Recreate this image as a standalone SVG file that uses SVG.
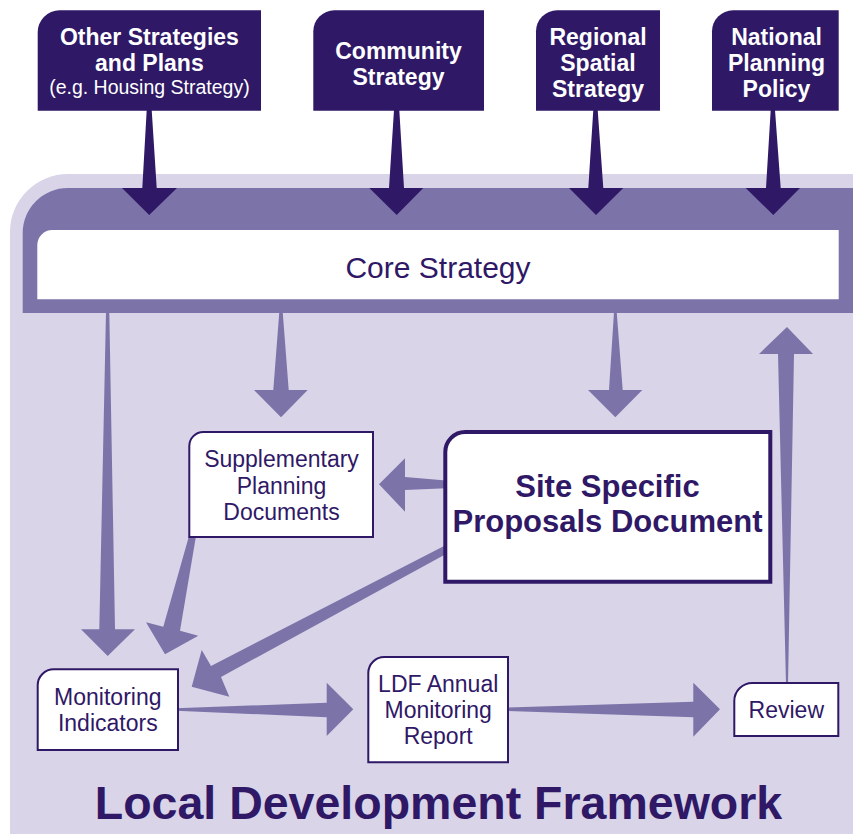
<svg xmlns="http://www.w3.org/2000/svg" width="853" height="834" viewBox="0 0 853 834">
<style>
.dark{fill:#2f1866}
.mid{fill:#7c73a9}
.light{fill:#d9d4e8}
.node{fill:#ffffff;stroke:#2f1866;stroke-width:2}
.nodeBig{fill:#ffffff;stroke:#2f1866;stroke-width:4}
.top{font-family:"Liberation Sans",Arial,sans-serif;font-weight:bold;font-size:23px;fill:#ffffff;text-anchor:middle}
.topSmall{font-family:"Liberation Sans",Arial,sans-serif;font-size:19.5px;fill:#ffffff;text-anchor:middle}
.lbl{font-family:"Liberation Sans",Arial,sans-serif;font-size:23px;fill:#2f1866;text-anchor:middle}
.lblBold{font-family:"Liberation Sans",Arial,sans-serif;font-weight:bold;font-size:31px;fill:#2f1866;text-anchor:middle}
.title{font-family:"Liberation Sans",Arial,sans-serif;font-weight:bold;font-size:46.5px;fill:#2f1866;text-anchor:middle}
</style>

<g id="background">
<path class="light" d="M10,834 V232 A58,58 0 0 1 68,174 H853 V834 Z"/>
<path class="mid" d="M22.7,313 V233 A45,45 0 0 1 67.7,188 H853 V313 Z"/>
</g>

<g id="core-strategy">
<path fill="#ffffff" d="M37.3,245 A15,15 0 0 1 52.3,230 H838.7 V299.3 H37.3 Z"/>
<text class="lbl" x="438" y="278.3" style="font-size:30px">Core Strategy</text>
</g>

<g id="connectors">
<polygon class="dark" points="146.7,110 151.7,110 156.7,188 177,188 149.2,215 122,188 142.3,188"/>
<polygon class="dark" points="394,110 399.3,110 404,188 423.3,188 396.7,215 369.3,188 389,188"/>
<polygon class="dark" points="593.3,110 597.7,110 603.3,188 623.3,188 596,215 569,188 588.3,188"/>
<polygon class="dark" points="770.7,110 775,110 780.7,188 800,188 773.3,215 745.7,188 766,188"/>
<polygon class="mid" points="279.3,312 282.7,312 288.7,390 307.7,390 281,417.3 254,390 273.3,390"/>
<polygon class="mid" points="614,312 616.7,312 622.7,390 642.3,390 615.3,417.3 588,390 609,390"/>
<polygon class="mid" points="106,312 109.3,312 115,629.3 135,629.3 107.7,656 81,629.3 99.3,629.3"/>
<polygon class="mid" points="786,684 788,684 794,354 813,354 787,327 759,354 778,354"/>
<polygon class="mid" points="189,536 196,536 180,630.7 198.3,635.7 165,654.3 146,622.3 163.3,626.7"/>
<polygon class="mid" points="446,480.5 446,488.3 405,490 405,511.7 379,484.3 405,458.3 405,477"/>
<polygon class="mid" points="446,545 446,554 221,677 229.3,696.7 191.7,686.7 201.7,650 211,666"/>
<polygon class="mid" points="176,708.3 326.7,702.7 326.7,682.7 353.3,709.3 326.7,736 326.7,717.3 176,710.7"/>
<polygon class="mid" points="507,707.5 693.3,701.7 693.3,682.7 720,709.3 693.3,736.7 693.3,717.3 507,711"/>
</g>

<g id="other-strategies">
<path class="dark" d="M37.7,33 A22,22 0 0 1 59.7,10.3 H261 V110.7 H37.7 Z"/>
<text class="top" x="149.4" y="44.5">Other Strategies</text>
<text class="top" x="149.4" y="70.7">and Plans</text>
<text class="topSmall" x="149.4" y="94.3">(e.g. Housing Strategy)</text>
</g>

<g id="community-strategy">
<path class="dark" d="M313.3,31.3 A21,21 0 0 1 334.3,10.3 H484 V110.7 H313.3 Z"/>
<text class="top" x="398.5" y="58.7">Community</text>
<text class="top" x="398.5" y="84.5">Strategy</text>
</g>

<g id="regional-spatial-strategy">
<path class="dark" d="M536,31.3 A21,21 0 0 1 557,10.3 H660 V110.7 H536 Z"/>
<text class="top" x="598" y="44.5">Regional</text>
<text class="top" x="598" y="70.5">Spatial</text>
<text class="top" x="598" y="96.5">Strategy</text>
</g>

<g id="national-planning-policy">
<path class="dark" d="M712,31.3 A21,21 0 0 1 733,10.3 H838.7 V110.7 H712 Z"/>
<text class="top" x="776.5" y="44.5">National</text>
<text class="top" x="776.5" y="70.5">Planning</text>
<text class="top" x="776.5" y="96.5">Policy</text>
</g>

<g id="supplementary-planning-documents">
<path class="node" d="M189.3,446 A14,14 0 0 1 203.3,432 H373 V537 H189.3 Z"/>
<text class="lbl" x="281.5" y="467">Supplementary</text>
<text class="lbl" x="281.5" y="493.5">Planning</text>
<text class="lbl" x="281.5" y="519.5">Documents</text>
</g>

<g id="site-specific-proposals">
<path class="nodeBig" d="M445.3,452 A20,20 0 0 1 465.3,432 H770.3 V581.7 H445.3 Z"/>
<text class="lblBold" x="607.5" y="497.3">Site Specific</text>
<text class="lblBold" x="607.5" y="532.3">Proposals Document</text>
</g>

<g id="monitoring-indicators">
<path class="node" d="M37.7,685.3 A16,16 0 0 1 53.7,669.3 H178 V750 H37.7 Z"/>
<text class="lbl" x="107.8" y="705">Monitoring</text>
<text class="lbl" x="107.8" y="730.7">Indicators</text>
</g>

<g id="ldf-annual-monitoring-report">
<path class="node" d="M368.3,673 A16,16 0 0 1 384.3,657 H508 V762.3 H368.3 Z"/>
<text class="lbl" x="438.2" y="692.3">LDF Annual</text>
<text class="lbl" x="438.2" y="718.3">Monitoring</text>
<text class="lbl" x="438.2" y="744.3">Report</text>
</g>

<g id="review">
<path class="node" d="M734.3,701 A18,18 0 0 1 752.3,683 H838.3 V736 H734.3 Z"/>
<text class="lbl" x="786.3" y="718.3">Review</text>
</g>

<g id="title">
<text class="title" x="438.5" y="819.3">Local Development Framework</text>
</g>
</svg>
